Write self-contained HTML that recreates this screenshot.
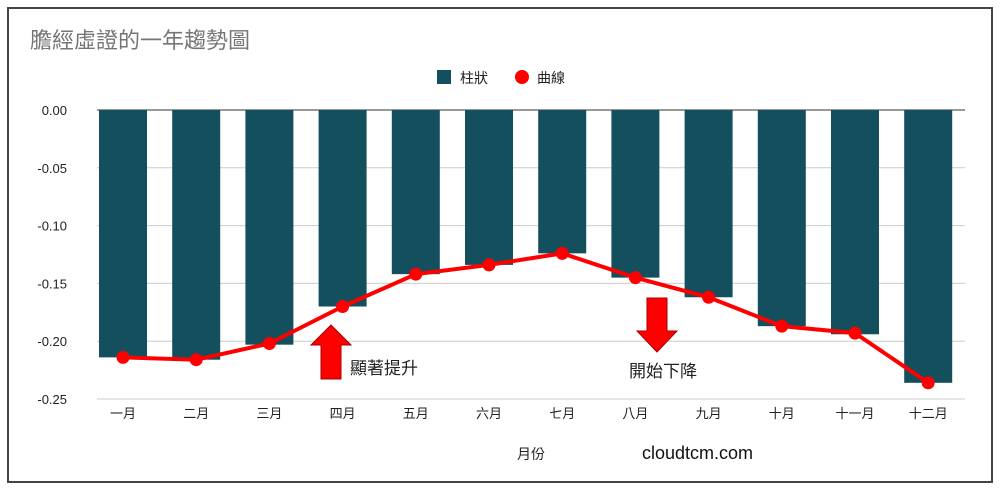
<!DOCTYPE html>
<html><head><meta charset="utf-8"><style>
body{margin:0;background:#fff;width:1000px;height:491px;overflow:hidden}
svg text{font-family:"Liberation Sans","Noto Sans CJK TC",sans-serif}
</style></head><body>
<svg width="1000" height="491">
<rect x="8" y="8" width="984" height="474" fill="#fff" stroke="#444" stroke-width="2"/>
<text x="30" y="48" font-size="22" fill="#757575">膽經虛證的一年趨勢圖</text>
<g>
<rect x="437" y="70" width="14" height="14" fill="#134f5c"/>
<text x="460" y="83" font-size="14" fill="#222">柱狀</text>
<circle cx="522" cy="77" r="7" fill="#f00"/>
<text x="537" y="83" font-size="14" fill="#222">曲線</text>
</g>
<g id="grid"></g><g id="bars"></g><g id="line"></g>
<g>
<polygon points="331,325 351,345 341,345 341,379 321,379 321,345 311,345" fill="#f00" stroke="#a00" stroke-width="1"/>
<text x="350" y="374" font-size="17" fill="#222">顯著提升</text>
</g>
<g>
<polygon points="647,298 667,298 667,331 677,331 657,352 637,331 647,331" fill="#f00" stroke="#a00" stroke-width="1"/>
<text x="629" y="377" font-size="17" fill="#222">開始下降</text>
</g>
<text x="531" y="459" font-size="14" fill="#222" text-anchor="middle">月份</text>
<text x="642" y="459" font-size="18" fill="#111">cloudtcm.com</text>
</svg>
<script>
const categories=["一月","二月","三月","四月","五月","六月","七月","八月","九月","十月","十一月","十二月"];
const barValues=[-0.214,-0.216,-0.203,-0.170,-0.142,-0.134,-0.124,-0.145,-0.162,-0.187,-0.194,-0.236];
const lineValues=[-0.214,-0.216,-0.202,-0.170,-0.142,-0.134,-0.124,-0.145,-0.162,-0.187,-0.193,-0.236];
const yTicks=[0,-0.05,-0.10,-0.15,-0.20,-0.25];
const NS="http://www.w3.org/2000/svg";
const y=v=>110+(-v)/0.25*289;
const x=i=>123+i*73.2;
function mk(t,a,p){const e=document.createElementNS(NS,t);for(const k in a)e.setAttribute(k,a[k]);p.appendChild(e);return e;}
const grid=document.getElementById('grid');
yTicks.forEach((v,i)=>{
 const l=mk('line',{x1:97,x2:965,y1:y(v),y2:y(v),stroke:i==0?'#333':'#ccc','stroke-width':1},grid);
 
 
 const t=mk('text',{x:67,y:y(v)+5,'font-size':13,fill:'#222','text-anchor':'end'},grid);
 t.textContent=v.toFixed(2);
 
 
});
const bars=document.getElementById('bars');
categories.forEach((c,i)=>{
 const r=mk('rect',{x:x(i)-24,y:y(0),width:48,height:y(barValues[i])-y(0),fill:'#134f5c'},bars);
 
 
 const t=mk('text',{x:x(i),y:418,'font-size':13,fill:'#222','text-anchor':'middle'},bars);
 t.textContent=c;
 
 
});
const lg=document.getElementById('line');
const p=mk('polyline',{points:lineValues.map((v,i)=>x(i)+','+y(v)).join(' '),fill:'none',stroke:'#f00','stroke-width':4},lg);


lineValues.forEach((v,i)=>{
 const c=mk('circle',{cx:x(i),cy:y(v),r:6.5,fill:'#f00'},lg);
 
 
});
</script>
</body></html>
